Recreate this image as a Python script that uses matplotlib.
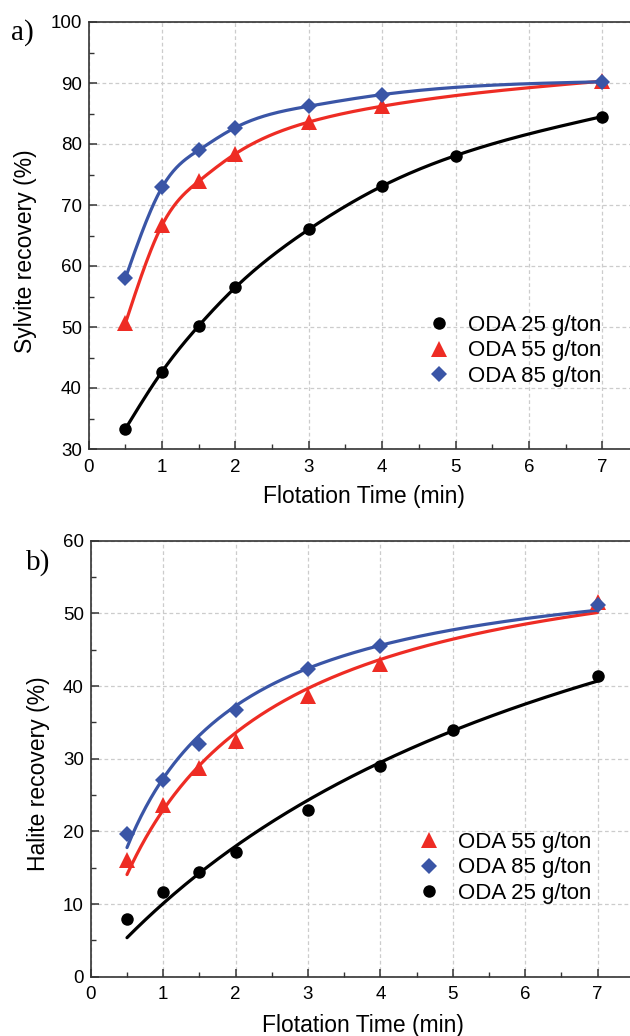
import numpy as np
import matplotlib
matplotlib.use("Agg")
import matplotlib.pyplot as plt
from matplotlib.lines import Line2D

plt.rcParams['font.family'] = ['Liberation Sans', 'DejaVu Sans']

# ---------------- data ----------------
# (a) Sylvite recovery
t_a = [0.5, 1, 1.5, 2, 3, 4, 5, 7]
syl_25 = [33.3, 42.7, 50.2, 56.5, 66.0, 73.1, 78.1, 84.5]
t_a2 = [0.5, 1, 1.5, 2, 3, 4, 7]
syl_55 = [50.6, 66.7, 73.9, 78.4, 83.6, 86.2, 90.3]
syl_85 = [58.0, 72.9, 79.0, 82.7, 86.2, 88.1, 90.2]

# (b) Halite recovery
t_b = [0.5, 1, 1.5, 2, 3, 4, 5, 7]
hal_25 = [8.0, 11.7, 14.4, 17.1, 22.9, 29.0, 33.9, 41.4]
t_b2 = [0.5, 1, 1.5, 2, 3, 4, 7]
hal_55 = [16.1, 23.6, 28.7, 32.5, 38.6, 43.0, 51.6]
hal_85 = [19.7, 27.1, 32.0, 36.7, 42.4, 45.5, 51.2]

labels = ['ODA 25 g/ton', 'ODA 55 g/ton', 'ODA 85 g/ton']
BLACK = '#000000'
RED = '#ee2c24'
BLUE = '#3a55a6'


def natural_spline(x, y, n=300):
    x = np.asarray(x, float)
    y = np.asarray(y, float)
    m = len(x)
    h = np.diff(x)
    A = np.zeros((m, m))
    r = np.zeros(m)
    A[0, 0] = 1
    A[-1, -1] = 1
    for i in range(1, m - 1):
        A[i, i - 1] = h[i - 1]
        A[i, i] = 2 * (h[i - 1] + h[i])
        A[i, i + 1] = h[i]
        r[i] = 6 * ((y[i + 1] - y[i]) / h[i] - (y[i] - y[i - 1]) / h[i - 1])
    M = np.linalg.solve(A, r)
    xs = np.linspace(x[0], x[-1], n)
    idx = np.clip(np.searchsorted(x, xs) - 1, 0, m - 2)
    x0, x1 = x[idx], x[idx + 1]
    hh = x1 - x0
    a = (x1 - xs) / hh
    b = (xs - x0) / hh
    ys = (a * y[idx] + b * y[idx + 1]
          + ((a ** 3 - a) * M[idx] + (b ** 3 - b) * M[idx + 1]) * hh ** 2 / 6)
    return xs, ys


def hyper_fit(x, y, n=300):
    x = np.asarray(x, float)
    y = np.asarray(y, float)
    best = None
    for b in np.linspace(0.05, 20, 4000):
        f = x / (b + x)
        a = np.dot(f, y) / np.dot(f, f)
        err = np.sum((a * f - y) ** 2)
        if best is None or err < best[0]:
            best = (err, a, b)
    _, a, b = best
    xs = np.linspace(x[0], x[-1], n)
    return xs, a * xs / (b + xs)


W, H = 630, 1036
fig = plt.figure(figsize=(W / 100, H / 100), dpi=100)


def px_axes(left, top, right, bottom):
    return fig.add_axes([left / W, 1 - bottom / H, (right - left) / W, (bottom - top) / H])


ax1 = px_axes(88.7, 22, 88.7 + 7.5 * 73.37, 449)
ax2 = px_axes(90.8, 540.7, 90.8 + 7.5 * 72.4, 976.7)

lw = 2.3
ms_o, ms_t, ms_d = 9.0, 11.0, 8.5

# panel a
for (xx, yy, c) in [(t_a, syl_25, BLACK), (t_a2, syl_55, RED), (t_a2, syl_85, BLUE)]:
    xs, ys = natural_spline(xx, yy)
    ax1.plot(xs, ys, color=c, lw=lw, zorder=3, solid_capstyle='round')
ax1.plot(t_a, syl_25, 'o', color=BLACK, ms=ms_o, mew=0, zorder=4)
ax1.plot(t_a2, syl_55, '^', color=RED, ms=ms_t, mew=0, zorder=4)
ax1.plot(t_a2, syl_85, 'D', color=BLUE, ms=ms_d, mew=0, zorder=5)

# panel b
for (xx, yy, c) in [(t_b, hal_25, BLACK), (t_b2, hal_55, RED), (t_b2, hal_85, BLUE)]:
    xs, ys = hyper_fit(xx, yy)
    ax2.plot(xs, ys, color=c, lw=lw, zorder=3, solid_capstyle='round')
ax2.plot(t_b, hal_25, 'o', color=BLACK, ms=ms_o, mew=0, zorder=4)
ax2.plot(t_b2, hal_55, '^', color=RED, ms=ms_t, mew=0, zorder=4)
ax2.plot(t_b2, hal_85, 'D', color=BLUE, ms=ms_d, mew=0, zorder=5)

for ax, ylim, ymaj in [(ax1, (30, 100), 10), (ax2, (0, 60), 10)]:
    ax.set_xlim(0, 7.5)
    ax.set_ylim(*ylim)
    ax.set_xticks(np.arange(0, 8, 1))
    ax.set_xticks(np.arange(0.5, 7.5, 0.5), minor=True)
    ax.set_yticks(np.arange(ylim[0], ylim[1] + 1, ymaj))
    ax.set_yticks(np.arange(ylim[0] + 5, ylim[1], 10), minor=True)
    ax.tick_params(which='major', direction='in', length=6, width=1.1, color='#333333',
                   labelsize=13.5, top=False, right=False)
    ax.tick_params(which='minor', direction='in', length=3.5, width=1.0, color='#333333',
                   top=False, right=False)
    ax.tick_params(axis='x', which='major', pad=7)
    ax.tick_params(axis='y', which='major', pad=5)
    ax.grid(True, which='major', color='#cccccc', lw=0.9, ls=(0, (3, 2.2)))
    ax.set_axisbelow(True)
    for s in ax.spines.values():
        s.set_linewidth(1.2)
        s.set_color('#333333')

ax1.set_xlabel('Flotation Time (min)', fontsize=16.5)
ax2.set_xlabel('Flotation Time (min)', fontsize=16.5)
ax1.set_ylabel('Sylvite recovery (%)', fontsize=16.5)
ax2.set_ylabel('Halite recovery (%)', fontsize=16.5)
ax1.xaxis.set_label_coords(0.501, -0.112)
ax2.xaxis.set_label_coords(0.5007, -0.111)
ax1.yaxis.set_label_coords(-0.114, 0.4625)
ax2.yaxis.set_label_coords(-0.0972, 0.465)
for ax in (ax1, ax2):
    ax.xaxis.label.set_verticalalignment('center')
    ax.yaxis.label.set_verticalalignment('center')


def handle(marker, color, ms):
    return Line2D([], [], ls='none', marker=marker, color=color, ms=ms, mew=0)


h25 = handle('o', BLACK, ms_o)
h55 = handle('^', RED, ms_t)
h85 = handle('D', BLUE, ms_d)

leg_kw = dict(frameon=False, fontsize=16, handlelength=1.0, handletextpad=0.8,
              labelspacing=0.2, borderpad=0, borderaxespad=0, loc='upper left',
              bbox_transform=fig.transFigure)
ax1.legend([h25, h55, h85], [labels[0], labels[1], labels[2]],
           bbox_to_anchor=(428 / W, 1 - 315 / H), **leg_kw)
ax2.legend([h55, h85, h25], [labels[1], labels[2], labels[0]],
           bbox_to_anchor=(418 / W, 1 - 832 / H), **leg_kw)

fig.text(11 / W, 1 - 33 / H, 'a)', family='Liberation Serif', fontsize=21,
         ha='left', va='center')
fig.text(26 / W, 1 - 563 / H, 'b)', family='Liberation Serif', fontsize=21,
         ha='left', va='center')

fig.savefig('out.png', dpi=100)
